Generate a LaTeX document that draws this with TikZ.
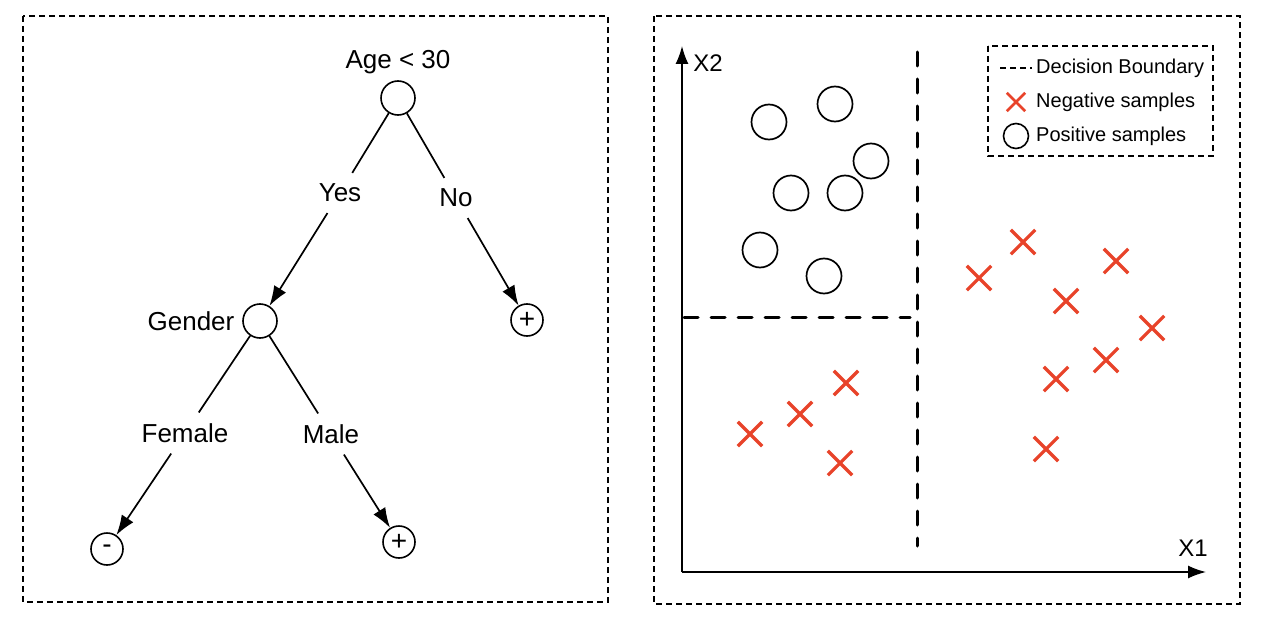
\documentclass[tikz,border=0pt]{standalone}
\usepackage{fontspec}
\setmainfont{Liberation Sans}
\usetikzlibrary{arrows.meta}
\definecolor{xred}{HTML}{E8432A}
\tikzset{
  panel/.style={draw, dash pattern=on 6pt off 4pt, line width=1.2pt},
  tnode/.style={circle, draw, line width=1.6pt, minimum size=34pt, inner sep=0pt},
  leaf/.style={circle, draw, line width=1.6pt, minimum size=32pt, inner sep=0pt, font=\fontsize{28}{30}\selectfont},
  lbl/.style={font=\fontsize{26}{30}\selectfont, inner sep=2pt, outer sep=9pt},
  axlbl/.style={font=\fontsize{24}{28}\selectfont, inner sep=2pt},
  tedge/.style={line width=1.7pt},
  arr/.style={line width=1.7pt, -{Latex[length=20pt,width=14pt]}},
  possample/.style={circle, draw, line width=1.7pt, minimum size=35pt, inner sep=0pt},
  negc/.style={minimum size=24pt, inner sep=0pt},
  bound/.style={line width=3pt, line cap=round, dash pattern=on 14pt off 13pt},
  axisline/.style={line width=1.6pt, -{Latex[length=18pt,width=13pt]}},
  legtext/.style={font=\fontsize{20}{22}\selectfont, anchor=west, inner sep=0pt},
}
\newcommand{\xmark}[2]{%
  \node[negc] (#1) at #2 {};
  \draw[xred, line width=3.2pt] (#1.north west) -- (#1.south east) (#1.north east) -- (#1.south west);}
\begin{document}
\begin{tikzpicture}[x=1pt,y=-1pt]
\useasboundingbox (0,0) rectangle (1264,626);
% panels
\draw[panel] (23,16) rectangle (608,602);
\draw[panel] (654,16) rectangle (1240,604);

% ---------- tree ----------
\node[lbl, outer sep=2pt] (age) at (398,62) {Age < 30};
\node[tnode] (root) at (398,98) {};
\node[lbl] (yes) at (340,193) {Yes};
\node[lbl] (no) at (456,198) {No};
\node[tnode] (gender) at (260,321) {};
\node[lbl, outer sep=2pt] (gl) at (191,321) {Gender};
\node[leaf] (p1) at (527,320) {+};
\node[lbl] (female) at (185,433) {Female};
\node[lbl] (male) at (331,434) {Male};
\node[leaf] (m) at (107,549) {-};
\node[leaf] (p2) at (399,542) {+};

\draw[tedge] (root) -- (yes);
\draw[tedge] (root) -- (no);
\draw[arr] (yes) -- (gender);
\draw[arr] (no) -- (p1);
\draw[tedge] (gender) -- (female);
\draw[tedge] (gender) -- (male);
\draw[arr] (female) -- (m);
\draw[arr] (male) -- (p2);

% ---------- scatter ----------
\coordinate (o) at (682,572);
\coordinate (ytop) at (682,46);
\coordinate (xend) at (1206,572);
\draw[axisline] (o) -- (ytop);
\draw[axisline] (o) -- (xend);
\node[axlbl] (x2) at (708,63) {X2};
\node[axlbl] (x1) at (1193,548) {X1};

\coordinate (v1) at (917,52);
\coordinate (v2) at (917,546);
\coordinate (h1) at (684,317);
\coordinate (h2) at (910,317);
\draw[bound] (v1) -- (v2);
\draw[bound] (h1) -- (h2);

% legend
\draw[panel, line width=1.4pt] (988,46) rectangle (1213,156);
\coordinate (ld1) at (1000,68);
\coordinate (ld2) at (1032,68);
\draw[line width=1.5pt, dash pattern=on 6pt off 4pt] (ld1) -- (ld2);
\node[legtext] (lt1) at (1036,68) {Decision Boundary};
\node[minimum size=18pt, inner sep=0pt] (lx) at (1016,102) {};
\draw[xred, line width=2.8pt] (lx.north west) -- (lx.south east) (lx.north east) -- (lx.south west);
\node[legtext] (lt2) at (1036,102) {Negative samples};
\node[circle, draw, line width=1.6pt, minimum size=25pt, inner sep=0pt] (lc) at (1016,136) {};
\node[legtext] (lt3) at (1036,136) {Positive samples};

% positive samples
\node[possample] (c1) at (769,122) {};
\node[possample] (c2) at (835,104) {};
\node[possample] (c3) at (871,161) {};
\node[possample] (c4) at (791,193) {};
\node[possample] (c5) at (845,193) {};
\node[possample] (c6) at (760,250) {};
\node[possample] (c7) at (824,276) {};

% negative samples
\xmark{n1}{(750,434)}
\xmark{n2}{(800,414)}
\xmark{n3}{(846,383)}
\xmark{n4}{(840,463)}
\xmark{n5}{(979,278)}
\xmark{n6}{(1023,242)}
\xmark{n7}{(1116,261)}
\xmark{n8}{(1066,301)}
\xmark{n9}{(1152,328)}
\xmark{n10}{(1106,360)}
\xmark{n11}{(1056,379)}
\xmark{n12}{(1046,449)}
\end{tikzpicture}
\end{document}
